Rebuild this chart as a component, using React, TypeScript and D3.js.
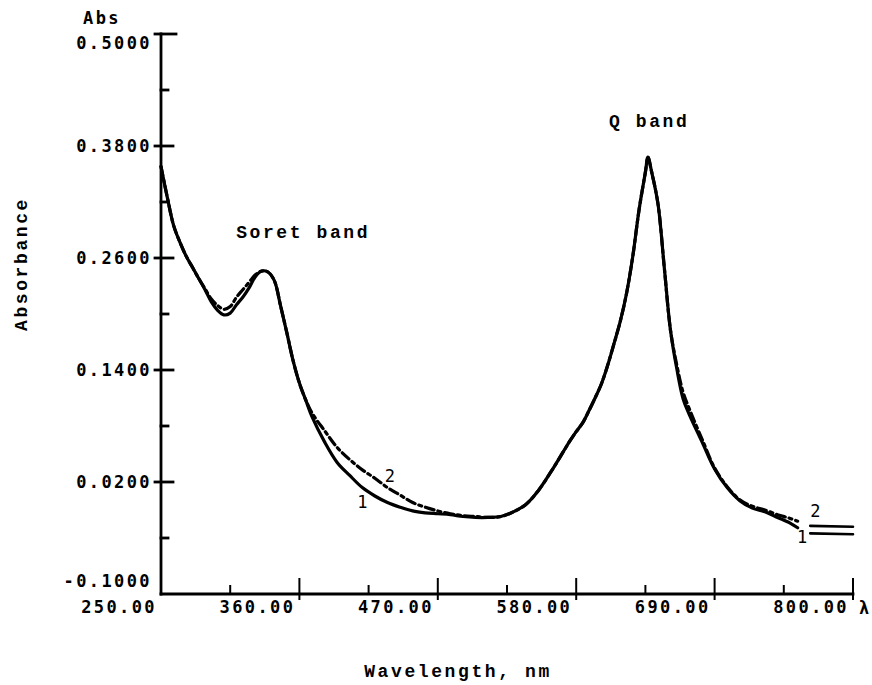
import React from "react";
import * as d3 from "d3";

// Absorption spectra: two samples sharing one wavelength grid (nm)
const wavelengths = [
  250, 255, 260, 265, 270, 275, 280, 285, 290, 295, 300, 305, 310, 315, 320, 325,
  330, 335, 340, 345, 350, 355, 360, 365, 370, 380, 390, 400, 410, 420, 430, 440,
  450, 460, 470, 480, 490, 500, 510, 520, 530, 540, 550, 560, 570, 575, 580, 585,
  590, 595, 600, 605, 610, 615, 620, 625, 630, 635, 637, 640, 645, 650, 655, 660,
  665, 670, 680, 690, 700, 710, 720, 730, 740, 750, 756,
];

const absorbance1 = [
  0.358, 0.325, 0.295, 0.277, 0.262, 0.25, 0.238, 0.226, 0.213, 0.204, 0.199, 0.201, 0.21, 0.218, 0.228, 0.24,
  0.246, 0.245, 0.236, 0.209, 0.18, 0.15, 0.126, 0.108, 0.09, 0.063, 0.041, 0.027, 0.014, 0.005, -0.002, -0.007,
  -0.011, -0.013, -0.014, -0.015, -0.017, -0.018, -0.018, -0.017, -0.012, -0.004, 0.011, 0.031, 0.053, 0.064, 0.074, 0.083,
  0.096, 0.11, 0.125, 0.145, 0.168, 0.192, 0.222, 0.262, 0.312, 0.352, 0.368, 0.352, 0.318, 0.25, 0.182, 0.141,
  0.109, 0.092, 0.063, 0.034, 0.014, 0.0, -0.008, -0.012, -0.018, -0.024, -0.029,
];

const absorbance2 = [
  0.358, 0.325, 0.295, 0.277, 0.262, 0.25, 0.238, 0.227, 0.216, 0.209, 0.205, 0.208, 0.218, 0.226, 0.234, 0.242,
  0.246, 0.245, 0.236, 0.209, 0.18, 0.15, 0.126, 0.108, 0.094, 0.075, 0.057, 0.044, 0.033, 0.024, 0.014, 0.006,
  -0.002, -0.007, -0.011, -0.014, -0.016, -0.017, -0.018, -0.017, -0.012, -0.004, 0.011, 0.031, 0.053, 0.064, 0.074, 0.083,
  0.096, 0.11, 0.125, 0.145, 0.168, 0.192, 0.222, 0.262, 0.312, 0.352, 0.368, 0.352, 0.318, 0.25, 0.182, 0.145,
  0.116, 0.098, 0.066, 0.035, 0.015, 0.001, -0.006, -0.01, -0.015, -0.019, -0.022,
];

// Short key segments at the right edge, next to the curve numbers
const tailWavelengths = [766, 800];
const tailAbsorbance1 = [-0.035, -0.036];
const tailAbsorbance2 = [-0.027, -0.028];

const yMajorTicks = [0.5, 0.38, 0.26, 0.14, 0.02, -0.1];
const yMinorTicks = [0.44, 0.32, 0.2, 0.08, -0.04];
const xLabelTicks = [250, 360, 470, 580, 690, 800];
const xMajorTicks = [360, 470, 580, 690, 800];
const xMinorTicks = [305, 415, 525, 635, 745];

const tickFont = "'DejaVu Sans Mono', monospace";
const typeFont = "'Liberation Mono', 'DejaVu Sans Mono', monospace";

export default function App() {
  const width = 872;
  const height = 685;

  const x = d3.scaleLinear().domain([250, 800]).range([161, 853]);
  const y = d3.scaleLinear().domain([-0.1, 0.5]).range([594, 34]);

  const line = d3
    .line<[number, number]>()
    .x((d) => x(d[0]))
    .y((d) => y(d[1]))
    .curve(d3.curveCatmullRom.alpha(0.5));

  const series1 = wavelengths.map((w, i) => [w, absorbance1[i]] as [number, number]);
  const series2 = wavelengths.map((w, i) => [w, absorbance2[i]] as [number, number]);
  const tail1 = tailWavelengths.map((w, i) => [w, tailAbsorbance1[i]] as [number, number]);
  const tail2 = tailWavelengths.map((w, i) => [w, tailAbsorbance2[i]] as [number, number]);

  const x0 = x(250);
  const yBase = y(-0.1);

  const yLabelOffset = (i: number) =>
    i === 0 ? 10 : i === yMajorTicks.length - 1 ? -12 : 1;

  return (
    <svg
      width={width}
      height={height}
      viewBox={`0 0 ${width} ${height}`}
      style={{ position: "absolute", left: 0, top: 0, background: "#fff" }}
    >
      <rect x={0} y={0} width={width} height={height} fill="#fff" />

      {/* axes */}
      <g stroke="#000" strokeWidth={2.8} fill="none" strokeLinecap="square">
        <line x1={x0} y1={y(0.5)} x2={x0} y2={yBase} />
        <line x1={x0} y1={yBase} x2={x(800)} y2={yBase} />
        {yMajorTicks.map((v, i) =>
          i === yMajorTicks.length - 1 ? null : (
            <line key={`ym${v}`} x1={x0 - 6} x2={x0 + (i === 0 ? 15 : 12)} y1={y(v)} y2={y(v)} />
          )
        )}
        {yMinorTicks.map((v) => (
          <line key={`yn${v}`} x1={x0} x2={x0 + 7} y1={y(v)} y2={y(v)} />
        ))}
        {xMajorTicks.map((v) => (
          <line key={`xm${v}`} x1={x(v)} x2={x(v)} y1={yBase - 15} y2={yBase + 5} strokeWidth={2} />
        ))}
        {xMinorTicks.map((v) => (
          <line key={`xn${v}`} x1={x(v)} x2={x(v)} y1={yBase - 8} y2={yBase} strokeWidth={2} />
        ))}
      </g>

      {/* tick labels */}
      <g fontFamily={tickFont} fontWeight="bold" fontSize={17} fill="#000" letterSpacing={2.4}>
        {yMajorTicks.map((v, i) => (
          <text key={`yl${v}`} x={x0 - 9} y={y(v) + yLabelOffset(i)} textAnchor="end" dominantBaseline="middle">
            {v.toFixed(4)}
          </text>
        ))}
        {xLabelTicks.map((v) => (
          <text key={`xl${v}`} x={x(v) - 4} y={yBase + 14} textAnchor="end" dominantBaseline="middle">
            {v.toFixed(2)}
          </text>
        ))}
        <text x={x0 - 78} y={y(0.5) - 15} dominantBaseline="middle">
          Abs
        </text>
        <text x={x(800) + 6} y={yBase + 15} dominantBaseline="middle" letterSpacing={0}>
          λ
        </text>
      </g>

      {/* axis titles and band names */}
      <g fontFamily={typeFont} fontWeight="bold" fontSize={18} fill="#000" letterSpacing={2.6}>
        <text x={458} y={672} textAnchor="middle" dominantBaseline="middle">
          Wavelength, nm
        </text>
        <text
          transform={`translate(22, ${(y(0.5) + yBase) / 2 - 50}) rotate(-90)`}
          textAnchor="middle"
          dominantBaseline="middle"
        >
          Absorbance
        </text>
        <text x={x(363)} y={y(0.287)} textAnchor="middle" dominantBaseline="middle">
          Soret band
        </text>
        <text x={x(638)} y={y(0.405)} textAnchor="middle" dominantBaseline="middle">
          Q band
        </text>
      </g>

      {/* spectra */}
      <g fill="none" stroke="#000" strokeLinejoin="round" strokeLinecap="round">
        <path d={line(series1) ?? ""} strokeWidth={3.2} />
        <path d={line(series2) ?? ""} strokeWidth={3.2} strokeDasharray="9,4,3,4" />
        <path d={line(tail1) ?? ""} strokeWidth={2.6} />
        <path d={line(tail2) ?? ""} strokeWidth={2.6} />
      </g>

      {/* curve numbers */}
      <g fontFamily={tickFont} fontSize={17} fill="#000">
        <text x={x(410)} y={y(-0.002)} textAnchor="middle" dominantBaseline="middle">1</text>
        <text x={x(432)} y={y(0.025)} textAnchor="middle" dominantBaseline="middle">2</text>
        <text x={x(759.5)} y={y(-0.04)} textAnchor="middle" dominantBaseline="middle">1</text>
        <text x={x(770)} y={y(-0.012)} textAnchor="middle" dominantBaseline="middle">2</text>
      </g>
    </svg>
  );
}
